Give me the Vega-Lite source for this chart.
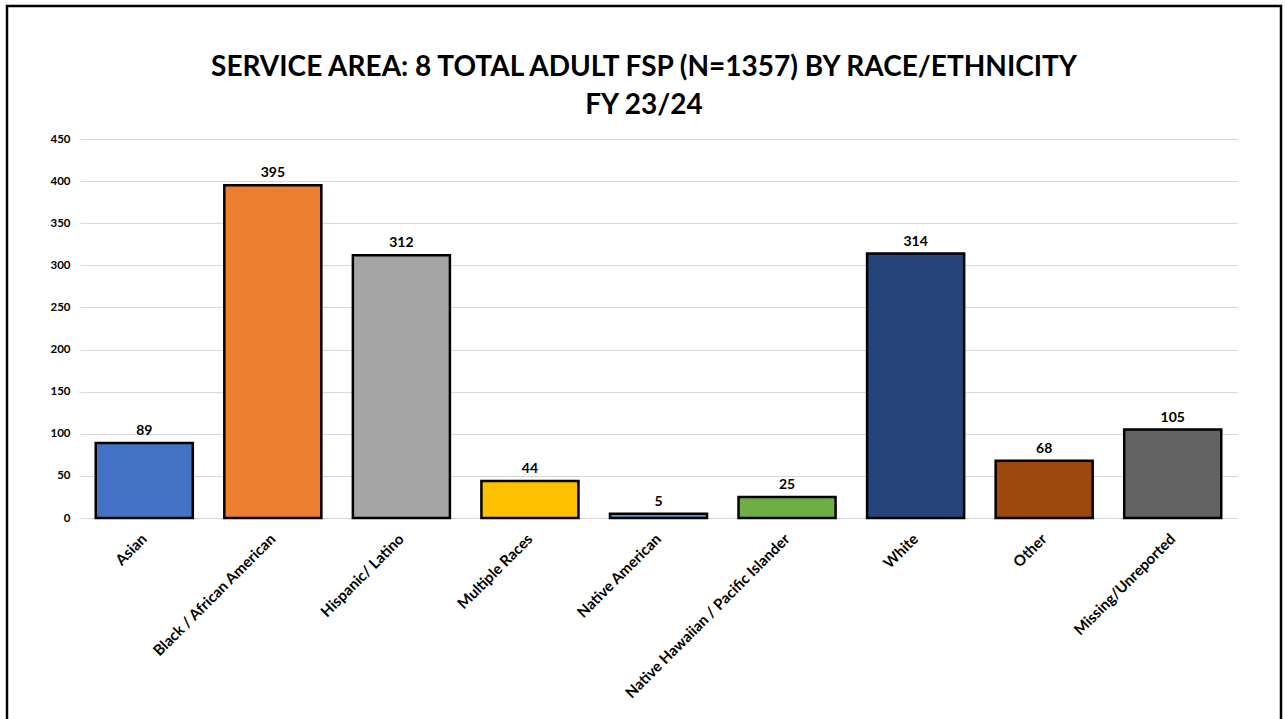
{
  "$schema": "https://vega.github.io/schema/vega-lite/v6.json",
  "autosize": "none",
  "padding": {"left": 7, "top": 6, "right": 5, "bottom": 0},
  "width": 1274,
  "height": 720,
  "background": "white",
  "config": {"view": {"stroke": "#000000", "strokeWidth": 2.5}, "font": "Lato"},
  "title": {
    "text": ["SERVICE AREA: 8 TOTAL ADULT FSP (N=1357) BY RACE/ETHNICITY", "FY 23/24"],
    "fontSize": 28,
    "font": "Lato",
    "fontWeight": "bold",
    "color": "#000000",
    "anchor": "middle",
    "frame": "group",
    "baseline": "top",
    "offset": -114,
    "lineHeight": 38
  },
  "data": {
    "values": [
      {"race": "Asian", "count": 89},
      {"race": "Black / African American", "count": 395},
      {"race": "Hispanic/ Latino", "count": 312},
      {"race": "Multiple Races", "count": 44},
      {"race": "Native American", "count": 5},
      {"race": "Native Hawaiian / Pacific Islander", "count": 25},
      {"race": "White", "count": 314},
      {"race": "Other", "count": 68},
      {"race": "Missing/Unreported", "count": 105}
    ]
  },
  "encoding": {
    "x": {
      "field": "race",
      "type": "nominal",
      "sort": null,
      "scale": {"range": [73, 1230], "paddingInner": 0.245, "paddingOuter": 0.1225},
      "axis": {
        "title": null,
        "offset": -208,
        "domain": false,
        "ticks": false,
        "tickSize": 0,
        "labelAngle": -45,
        "labelAlign": "right",
        "labelBaseline": "middle",
        "labelPadding": 18,
        "labelFont": "Lato",
        "labelFontWeight": "bold",
        "labelFontSize": 15,
        "labelColor": "#000000",
        "labelLimit": 400,
        "grid": false
      }
    },
    "y": {
      "field": "count",
      "type": "quantitative",
      "scale": {"domain": [0, 450], "range": [512, 133], "nice": false},
      "axis": {
        "title": null,
        "offset": -65,
        "domain": false,
        "ticks": false,
        "tickSize": 0,
        "labelPadding": 2,
        "labelFont": "Lato",
        "labelFontWeight": "bold",
        "labelFontSize": 11.5,
        "labelColor": "#000000",
        "values": [0, 50, 100, 150, 200, 250, 300, 350, 400, 450],
        "grid": true,
        "gridColor": "#D9D9D9",
        "gridWidth": 1.2
      }
    }
  },
  "layer": [
    {
      "mark": {"type": "bar", "stroke": "#000000", "strokeWidth": 2.5},
      "encoding": {
        "color": {
          "field": "race",
          "type": "nominal",
          "sort": null,
          "scale": {
            "domain": ["Asian", "Black / African American", "Hispanic/ Latino", "Multiple Races", "Native American", "Native Hawaiian / Pacific Islander", "White", "Other", "Missing/Unreported"],
            "range": ["#4472C4", "#ED7D31", "#A5A5A5", "#FFC000", "#5B9BD5", "#70AD47", "#264478", "#9E480E", "#636363"]
          },
          "legend": null
        }
      }
    },
    {
      "mark": {"type": "text", "dy": -5, "baseline": "bottom", "fontWeight": "bold", "fontSize": 14, "font": "Lato", "color": "#000000"},
      "encoding": {"text": {"field": "count", "type": "quantitative"}}
    }
  ]
}
